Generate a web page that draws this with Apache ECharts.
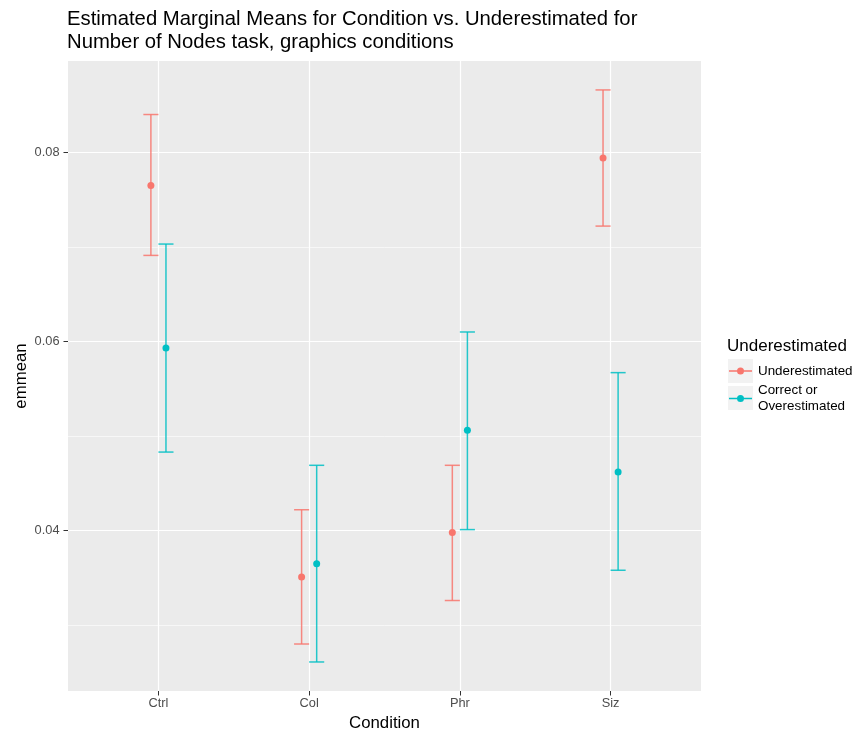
<!DOCTYPE html>
<html>
<head>
<meta charset="utf-8">
<script src="https://cdn.jsdelivr.net/npm/echarts@6/dist/echarts.min.js"></script>
<style>
html,body{margin:0;padding:0;background:#fff;}
#chart{width:854px;height:732px;}
</style>
</head>
<body>
<div id="chart"></div>
<script>
// ---- data ----
const categories = ['Ctrl', 'Col', 'Phr', 'Siz'];
const seriesNames = ['Underestimated', 'Correct or\nOverestimated'];
const underMean = [0.0765, 0.0351, 0.0398, 0.0794];
const underLo   = [0.0691, 0.0280, 0.0326, 0.0722];
const underHi   = [0.0840, 0.0422, 0.0469, 0.0866];
const corrMean  = [0.0593, 0.0365, 0.0506, 0.0462];
const corrLo    = [0.0483, 0.0261, 0.0401, 0.0358];
const corrHi    = [0.0703, 0.0469, 0.0610, 0.0567];
const yMajorTicks = [0.04, 0.06, 0.08];
const yMinorTicks = [0.03, 0.05, 0.07];
const yTickLabels = ['0.04', '0.06', '0.08'];

// ---- styling constants ----
const FONT = 'Liberation Sans';
const colors = ['#F8766D', '#00BFC4'];
const dodge = [-0.05, 0.05];
const capHalf = 0.05;

function errRender(params, api) {
  const x = api.value(0), lo = api.value(1), hi = api.value(2);
  const pTop = api.coord([x, hi]);
  const pBot = api.coord([x, lo]);
  const tl = api.coord([x - capHalf, hi]), tr = api.coord([x + capHalf, hi]);
  const bl = api.coord([x - capHalf, lo]), br = api.coord([x + capHalf, lo]);
  const style = { stroke: api.visual('color'), lineWidth: 1.5, opacity: 0.85 };
  return {
    type: 'group',
    children: [
      { type: 'line', shape: { x1: pTop[0], y1: pTop[1], x2: pBot[0], y2: pBot[1] }, style },
      { type: 'line', shape: { x1: tl[0], y1: tl[1], x2: tr[0], y2: tr[1] }, style },
      { type: 'line', shape: { x1: bl[0], y1: bl[1], x2: br[0], y2: br[1] }, style }
    ]
  };
}

const groups = [
  { mean: underMean, lo: underLo, hi: underHi },
  { mean: corrMean, lo: corrLo, hi: corrHi }
];

const series = [];
groups.forEach((g, gi) => {
  series.push({
    name: seriesNames[gi],
    type: 'custom',
    renderItem: errRender,
    itemStyle: { color: colors[gi] },
    encode: { x: 0, y: [1, 2] },
    data: categories.map((c, i) => [i + 1 + dodge[gi], g.lo[i], g.hi[i]]),
    z: 2
  });
  series.push({
    name: seriesNames[gi],
    type: 'scatter',
    symbol: 'circle',
    symbolSize: 7,
    itemStyle: { color: colors[gi], opacity: 1 },
    data: categories.map((c, i) => [i + 1 + dodge[gi], g.mean[i]]),
    z: 3
  });
});

const legendIcon = 'path://M0,0 L0.01,0 L0,0.01 Z M25,24 L24.99,24 L25,23.99 Z M1,11.25 L24,11.25 L24,12.75 L1,12.75 Z M16,12 A3.5,3.5 0 1 1 9,12 A3.5,3.5 0 1 1 16,12 Z';

const yMin = 0.02303, yMax = 0.08966;

const option = {
  animation: false,
  textStyle: { fontFamily: FONT },
  title: [
    {
      text: 'Estimated Marginal Means for Condition vs. Underestimated for\nNumber of Nodes task, graphics conditions',
      left: 67, top: 8, padding: 0,
      textStyle: { fontFamily: FONT, fontSize: 20.3, fontWeight: 'normal', color: '#000', lineHeight: 23 }
    },
    {
      text: 'Underestimated',
      left: 727, top: 338, padding: 0,
      textStyle: { fontFamily: FONT, fontSize: 17, fontWeight: 'normal', color: '#000' }
    }
  ],
  legend: {
    orient: 'vertical',
    left: 728, top: 359,
    itemWidth: 25, itemHeight: 24,
    itemGap: 0,
    padding: 0,
    selectedMode: false,
    textStyle: { fontFamily: FONT, fontSize: 13.4, color: '#000', lineHeight: 15.5 },
    data: seriesNames.map((n, i) => ({ name: n, icon: legendIcon, itemStyle: { color: colors[i] } }))
  },
  graphic: [
    { type: 'rect', left: 728, top: 359, z: -1, shape: { width: 25, height: 24 }, style: { fill: '#F2F2F2' } },
    { type: 'rect', left: 728, top: 386, z: -1, shape: { width: 25, height: 24 }, style: { fill: '#F2F2F2' } }
  ],
  grid: {
    left: 68, top: 61, right: 153, bottom: 41,
    show: true, backgroundColor: '#EBEBEB', borderWidth: 0,
    containLabel: false,
    outerBoundsMode: 'none'
  },
  xAxis: {
    type: 'value',
    min: 0.4, max: 4.6,
    name: 'Condition',
    nameLocation: 'middle',
    nameGap: 24,
    nameMoveOverlap: false,
    nameTextStyle: { fontFamily: FONT, fontSize: 16.8, color: '#000' },
    axisLine: { show: false },
    axisTick: { show: true, length: 4.5, customValues: [1, 2, 3, 4], lineStyle: { color: '#333', width: 1 } },
    axisLabel: {
      customValues: [1, 2, 3, 4],
      formatter: v => categories[Math.round(v) - 1],
      margin: 6, fontSize: 12.8, color: '#4D4D4D', fontFamily: FONT
    },
    splitLine: { show: true, lineStyle: { color: '#FFFFFF', width: 1.2 } }
  },
  yAxis: [
    {
      type: 'value',
      min: yMin, max: yMax,
      name: 'emmean',
      nameLocation: 'middle',
      nameGap: 38,
      nameMoveOverlap: false,
      nameTextStyle: { fontFamily: FONT, fontSize: 16.8, color: '#000' },
      axisLine: { show: false },
      axisTick: { show: true, length: 4.5, customValues: yMajorTicks, lineStyle: { color: '#333', width: 1 } },
      axisLabel: {
        customValues: yMajorTicks,
        formatter: v => yTickLabels[yMajorTicks.findIndex(t => Math.abs(t - v) < 1e-9)],
        margin: 8.5, fontSize: 12.8, color: '#4D4D4D', fontFamily: FONT
      },
      splitLine: { show: true, lineStyle: { color: '#FFFFFF', width: 1.2 } }
    },
    {
      type: 'value',
      min: yMin, max: yMax,
      position: 'right',
      axisLine: { show: false },
      axisTick: { show: false, customValues: yMinorTicks },
      axisLabel: { show: false, customValues: yMinorTicks },
      splitLine: { show: true, lineStyle: { color: '#FFFFFF', width: 0.6 } }
    }
  ],
  series: series
};

const chart = echarts.init(document.getElementById('chart'), null, { renderer: 'canvas' });
chart.setOption(option);
</script>
</body>
</html>
